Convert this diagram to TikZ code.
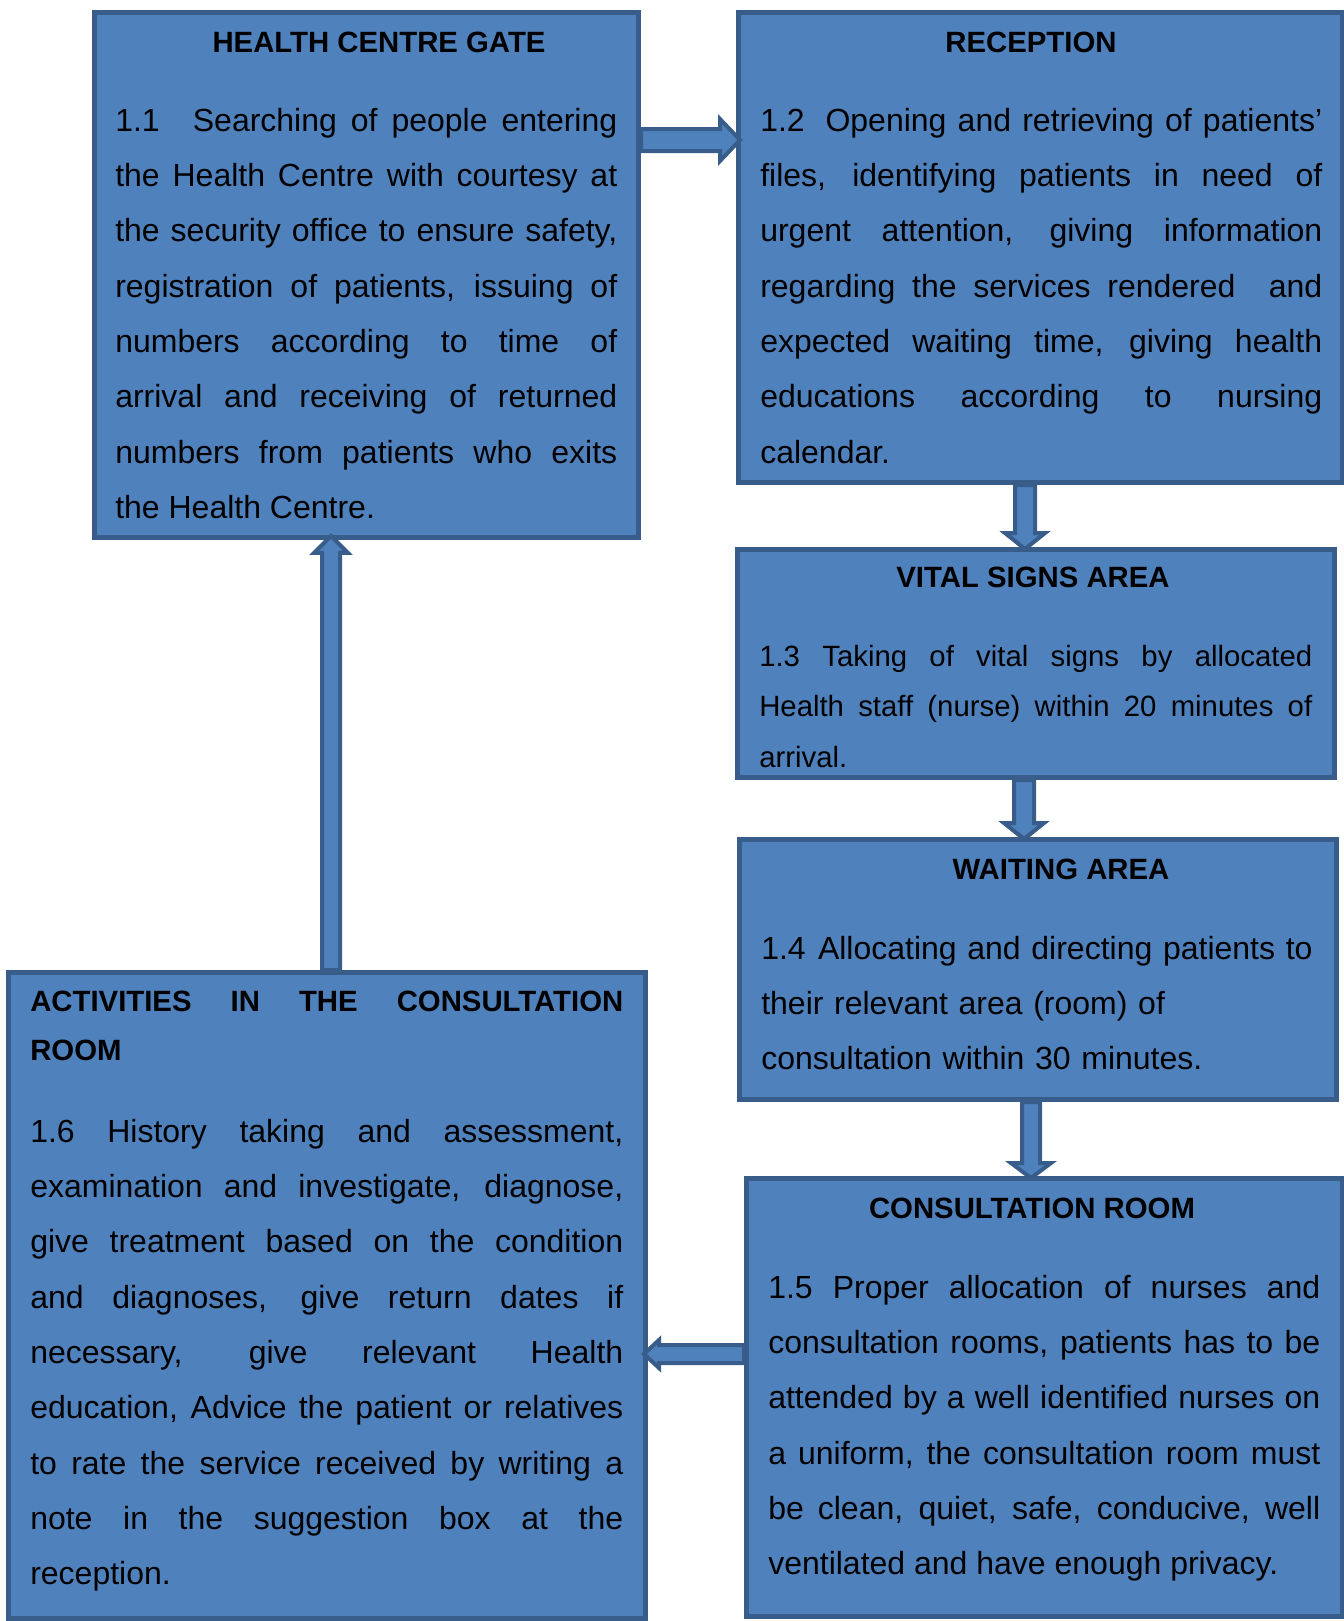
\documentclass[tikz,border=0pt]{standalone}
\usepackage{fontspec}
\setmainfont{Liberation Sans}
\usetikzlibrary{calc}
\definecolor{boxblue}{HTML}{4F81BD}
\definecolor{boxline}{HTML}{385D8A}
\tolerance=10000
\hbadness=10000
\tikzset{
  box/.style={draw=boxline, fill=boxblue, line width=3.75pt, anchor=north west, inner sep=0pt},
  head/.style={anchor=base, inner sep=0pt, font=\bfseries\fontsize{22pt}{26pt}\selectfont},
  bodytext/.style={anchor=base west, inner sep=0pt, align=justify, font=\fontsize{24pt}{41.5pt}\selectfont},
  smalltext/.style={anchor=base west, inner sep=0pt, align=justify, font=\fontsize{22pt}{37.9pt}\selectfont},
  blockarr/.style={draw=boxline, fill=boxblue, line width=3pt, line join=miter}
}
\newcommand\blockarrow[6]{%
  \draw[blockarr] let \p1=(#1), \p2=(#2),
    \n1={scalar(veclen(\x2-\x1,\y2-\y1))/0.75+#6},
    \n2={atan2(\y2-\y1,\x2-\x1)} in
    [shift={(\p1)}, rotate=\n2]
    (0,#3) -- ({\n1-#5},#3) -- ({\n1-#5},#4) -- (\n1,0)
    -- ({\n1-#5},-#4) -- ({\n1-#5},-#3) -- (0,-#3) -- cycle;}
\begin{document}
\begin{tikzpicture}[x=0.75pt, y=-0.75pt]
\useasboundingbox (0,0) rectangle (1344,1621);

% boxes
\node[box, minimum width=408pt, minimum height=393.75pt] (gate) at (92,10) {};
\node[box, minimum width=453pt, minimum height=352.5pt] (reception) at (736,10) {};
\node[box, minimum width=447.75pt, minimum height=171pt] (vital) at (735,547) {};
\node[box, minimum width=447.75pt, minimum height=195pt] (waiting) at (737,837) {};
\node[box, minimum width=447pt, minimum height=328.5pt] (consult) at (744,1176) {};
\node[box, minimum width=477.75pt, minimum height=484.5pt] (activities) at (6,970) {};

% helper coordinates for arrow positions
\coordinate (c1) at (0,140);
\coordinate (c2) at (1025,0);
\coordinate (c3) at (1024,0);
\coordinate (c4) at (1031,0);
\coordinate (c5) at (0,1354);
\coordinate (c6) at (331,0);

% arrows
\blockarrow{gate.east |- c1}{reception.west |- c1}{11}{21}{20}{4}
\blockarrow{reception.south -| c2}{vital.north -| c2}{10}{20}{16}{2}
\blockarrow{vital.south -| c3}{waiting.north -| c3}{10}{20}{16}{2}
\blockarrow{waiting.south -| c4}{consult.north -| c4}{9}{20}{15}{2}
\blockarrow{consult.west |- c5}{activities.east |- c5}{9}{14}{15}{4}
\blockarrow{activities.north -| c6}{gate.south -| c6}{9}{17}{17}{4}

% headings
\node[head] (gateh) at (379,52) {HEALTH CENTRE GATE};
\node[head] (receptionh) at (1031,52) {RECEPTION};
\node[head] (vitalh) at (1033,587) {VITAL SIGNS AREA};
\node[head] (waitingh) at (1061,879) {WAITING AREA};
\node[head] (consulth) at (1032,1218) {CONSULTATION ROOM};
\node[head, anchor=base west, align=justify, text width=444.75pt,
      font=\bfseries\fontsize{22pt}{37.2pt}\selectfont] (activitiesh) at (30,1011)
  {ACTIVITIES IN THE CONSULTATION\linebreak ROOM};

% body texts
\node[bodytext, text width=376.5pt] (gatet) at (115,131)
  {1.1\hspace{0.6em} Searching of people entering\linebreak
   the Health Centre with courtesy at\linebreak
   the security office to ensure safety,\linebreak
   registration of patients, issuing of\linebreak
   numbers according to time of\linebreak
   arrival and receiving of returned\linebreak
   numbers from patients who exits\linebreak
   the Health Centre.};

\node[bodytext, text width=421.5pt] (receptiont) at (760,131)
  {1.2\hspace{0.3em} Opening and retrieving of patients’\linebreak
   files, identifying patients in need of\linebreak
   urgent attention, giving information\linebreak
   regarding the services rendered \ and\linebreak
   expected waiting time, giving health\linebreak
   educations according to nursing\linebreak
   calendar.};

\node[smalltext, text width=414.75pt] (vitalt) at (759,666)
  {1.3 Taking of vital signs by allocated\linebreak
   Health staff (nurse) within 20 minutes of\linebreak
   arrival.};

\node[bodytext, align=left, text width=450pt] (waitingt) at (761,959)
  {1.4\hspace{0.05em} Allocating and directing patients to\newline
   their relevant area (room) of\newline
   consultation within 30 minutes.};

\node[bodytext, text width=414pt] (consultt) at (768,1298)
  {1.5 Proper allocation of nurses and\linebreak
   consultation rooms, patients has to be\linebreak
   attended by a well identified nurses on\linebreak
   a uniform, the consultation room must\linebreak
   be clean, quiet, safe, conducive, well\linebreak
   ventilated and have enough privacy.};

\node[bodytext, text width=444.75pt] (activitiest) at (30,1142)
  {1.6 History taking and assessment,\linebreak
   examination and investigate, diagnose,\linebreak
   give treatment based on the condition\linebreak
   and diagnoses, give return dates if\linebreak
   necessary, give relevant Health\linebreak
   education, Advice the patient or relatives\linebreak
   to rate the service received by writing a\linebreak
   note in the suggestion box at the\linebreak
   reception.};
\end{tikzpicture}
\end{document}
